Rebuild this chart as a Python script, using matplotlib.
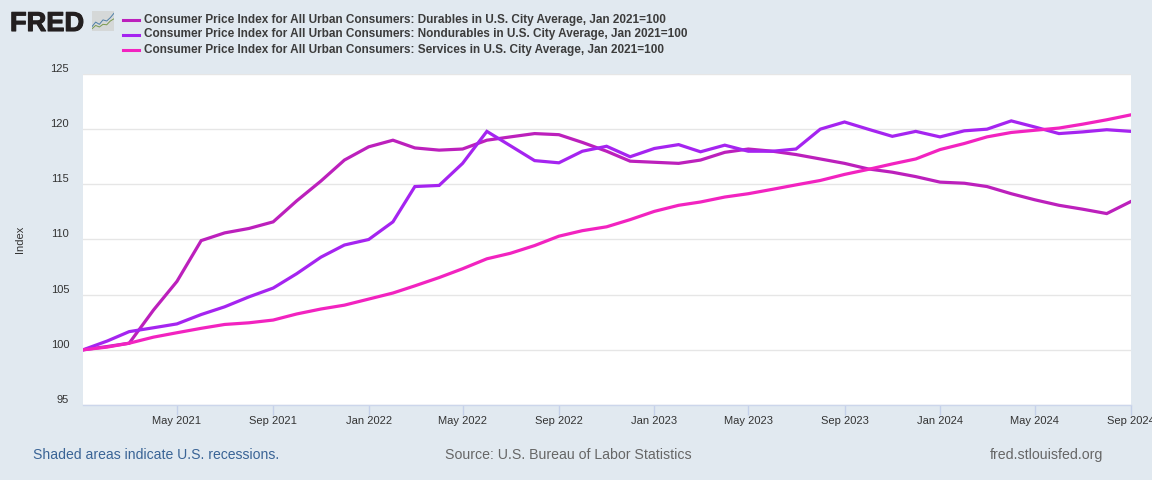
import pandas as pd
import matplotlib
matplotlib.use('Agg')
import matplotlib.pyplot as plt
import matplotlib.patheffects as pe
from matplotlib.transforms import ScaledTranslation

plt.rcParams['font.family'] = ['Liberation Sans', 'DejaVu Sans']

months = pd.date_range('2021-01-01', '2024-09-01', freq='MS')

durables = [100, 100.3, 100.6, 103.6, 106.2, 109.9, 110.6, 111, 111.6, 113.5, 115.3, 117.2,
            118.4, 119, 118.3, 118.1, 118.2, 119, 119.3, 119.6, 119.5, 118.8, 118, 117.1,
            117, 116.9, 117.2, 117.9, 118.2, 118, 117.7, 117.3, 116.9, 116.4, 116.1, 115.7,
            115.2, 115.1, 114.8, 114.15, 113.6, 113.1, 112.75, 112.35, 113.45]
nondurables = [100, 100.8, 101.65, 102, 102.35, 103.2, 103.9, 104.8, 105.6, 106.9, 108.4, 109.5,
               110, 111.6, 114.8, 114.9, 116.9, 119.8, 118.5, 117.15, 116.95, 118, 118.45, 117.5,
               118.25, 118.6, 117.95, 118.55, 118, 118, 118.2, 120, 120.65, 120, 119.35, 119.8,
               119.3, 119.85, 120, 120.75, 120.2, 119.6, 119.75, 119.95, 119.8]
services = [100, 100.25, 100.6, 101.15, 101.55, 101.95, 102.3, 102.45, 102.7, 103.25, 103.7, 104.05,
            104.6, 105.15, 105.8, 106.55, 107.35, 108.25, 108.75, 109.45, 110.3, 110.8, 111.15, 111.8,
            112.55, 113.1, 113.4, 113.85, 114.15, 114.55, 114.95, 115.35, 115.9, 116.35, 116.85, 117.3,
            118.15, 118.7, 119.3, 119.7, 119.9, 120.1, 120.45, 120.85, 121.3]

series_names = ['Consumer Price Index for All Urban Consumers: Durables in U.S. City Average, Jan 2021=100',
                'Consumer Price Index for All Urban Consumers: Nondurables in U.S. City Average, Jan 2021=100',
                'Consumer Price Index for All Urban Consumers: Services in U.S. City Average, Jan 2021=100']
y_ticks = [95, 100, 105, 110, 115, 120, 125]
x_ticks = pd.date_range('2021-05-01', '2024-09-01', freq='4MS')

BG = '#e1e9f0'
COLORS = ['#bc20bc', '#a524f0', '#f223c0']
W, H = 1152, 480

fig = plt.figure(figsize=(W / 100, H / 100), dpi=100, facecolor=BG)
# plot area in pixels: x 83-1131, y 74-405
ax = fig.add_axes([83 / W, 1 - 405 / H, (1131 - 83) / W, (405 - 74) / H])
ax.set_facecolor('white')

for vals, col in zip([durables, nondurables, services], COLORS):
    ax.plot(months, vals, color=col, linewidth=2.3, solid_joinstyle='miter', zorder=3)

ax.set_xlim(months[0], months[-1])
ax.set_ylim(95, 125)
ax.set_yticks(y_ticks)
ax.set_xticks(x_ticks)
ax.set_xticklabels([d.strftime('%b %Y') for d in x_ticks])
ax.grid(axis='y', color='#e6e6e6', linewidth=1)
ax.set_axisbelow(True)
for s in ['top', 'left', 'right']:
    ax.spines[s].set_visible(False)
ax.spines['bottom'].set_color('#ccd6eb')
ax.spines['bottom'].set_linewidth(1)

ax.tick_params(axis='y', length=0, pad=10, labelsize=8, labelcolor='#333333')
ax.tick_params(axis='x', length=7.2, width=1, color='#c5d1ea', pad=1, labelsize=8, labelcolor='#333333')
# FRED puts the y labels just above their gridline
for lab in ax.get_yticklabels():
    lab.set_transform(lab.get_transform() + ScaledTranslation(0, 0.06, fig.dpi_scale_trans))

fig.text(20 / W, 1 - 239 / H, 'Index', rotation=90, fontsize=8, color='#333333', ha='center', va='center')

# legend
for i, (name, col) in enumerate(zip(series_names, COLORS)):
    y = 1 - (19.5 + 15 * i) / H
    fig.add_artist(plt.Line2D([123 / W, 139 / W], [y, y], color=col, linewidth=2.2))
    fig.text(144 / W, y, name, fontsize=8.46, fontweight='bold', color='#3c3c3c', va='center', ha='left')

# logo
logo = fig.text(10 / W, 1 - 31 / H, 'FRED', fontsize=19.6, fontweight='bold', color='#231f20',
                va='baseline', ha='left')
logo.set_path_effects([pe.withStroke(linewidth=0.8, foreground='#231f20')])
icon = fig.add_axes([92 / W, 1 - 31 / H, 22 / W, 20 / H], facecolor='#d5d8d8')
icon.plot([0, 1, 2, 3, 4, 5, 6], [2, 4, 3, 5, 4.5, 6, 8], color='#4f7fa8', linewidth=0.7)
icon.plot([0, 1, 2, 3, 4, 5, 6], [1, 2.5, 1.8, 3, 2.8, 4.5, 5.5], color='#7a9a50', linewidth=0.7)
icon.set_xlim(0, 6)
icon.set_ylim(0, 9)
icon.set_xticks([])
icon.set_yticks([])
for s in icon.spines.values():
    s.set_visible(False)

# footer
fig.text(33 / W, 1 - 455 / H, 'Shaded areas indicate U.S. recessions.', fontsize=10.07, color='#3a6496', va='center')
fig.text(445 / W, 1 - 455 / H, 'Source: U.S. Bureau of Labor Statistics', fontsize=10.15, color='#666666', va='center')
fig.text(990 / W, 1 - 455 / H, 'fred.stlouisfed.org', fontsize=10.2, color='#666666', va='center')

fig.savefig('out.png', dpi=100, facecolor=BG)
